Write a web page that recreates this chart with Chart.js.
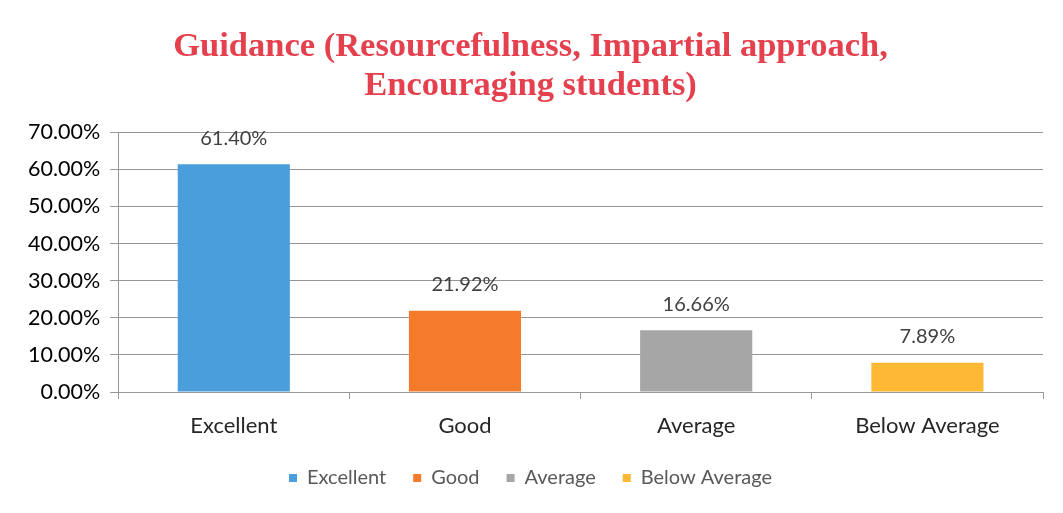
<!DOCTYPE html>
<html>
<head>
<meta charset="utf-8">
<script src="https://cdn.jsdelivr.net/npm/chart.js@4.4.1/dist/chart.umd.min.js"></script>
<style>
  html, body { margin: 0; padding: 0; background: #ffffff; }
  #wrap { width: 1063px; height: 513px; position: relative; }
</style>
</head>
<body>
<div id="wrap"><canvas id="c" width="1063" height="513"></canvas></div>
<script>
const categories = ['Excellent', 'Good', 'Average', 'Below Average'];
const values = [61.40, 21.92, 16.66, 7.89];
const valueLabels = ['61.40%', '21.92%', '16.66%', '7.89%'];
const barColors = ['#4a9edb', '#f47a2c', '#a6a6a6', '#ffb833'];
const titleLines = ['Guidance (Resourcefulness, Impartial approach,', 'Encouraging students)'];

const dataLabelPlugin = {
  id: 'dataLabels',
  afterDatasetsDraw(chart) {
    const ctx = chart.ctx;
    const meta = chart.getDatasetMeta(0);
    ctx.save();
    ctx.font = '20px Lato';
    ctx.fillStyle = '#404040';
    ctx.textAlign = 'center';
    ctx.textBaseline = 'middle';
    meta.data.forEach((bar, i) => {
      ctx.fillText(valueLabels[i], bar.x, bar.y - 26);
    });
    ctx.restore();
  }
};

new Chart(document.getElementById('c'), {
  type: 'bar',
  data: {
    labels: categories,
    datasets: [{
      label: 'Series',
      data: values,
      backgroundColor: barColors,
      borderWidth: 0,
      categoryPercentage: 1.0,
      barPercentage: 0.485
    }]
  },
  options: {
    responsive: false,
    animation: false,
    devicePixelRatio: 1,
    layout: { padding: { left: 18, right: 20, top: 0, bottom: 15 } },
    plugins: {
      title: {
        display: true,
        text: titleLines,
        color: '#e5404e',
        font: { family: 'Liberation Serif', size: 34.5, weight: 'bold', lineHeight: 1.12 },
        padding: { top: 28, bottom: 27 }
      },
      legend: {
        position: 'bottom',
        labels: {
          color: '#595959',
          font: { family: 'Lato', size: 20 },
          boxWidth: 8,
          boxHeight: 8,
          padding: 27,
          generateLabels(chart) {
            return categories.map((c, i) => ({
              text: c,
              fillStyle: barColors[i],
              strokeStyle: barColors[i],
              lineWidth: 0,
              fontColor: '#595959',
              index: i
            }));
          }
        }
      },
      tooltip: { enabled: false }
    },
    scales: {
      x: {
        grid: { display: true, offset: true, drawOnChartArea: false, drawTicks: true, tickLength: 7, color: '#999999' },
        border: { display: true, color: '#999999', width: 1 },
        ticks: { color: '#262626', font: { family: 'Lato', size: 22 }, padding: 14 },
        afterFit(scale) { scale.height = 49; }
      },
      y: {
        min: 0,
        max: 70,
        ticks: {
          stepSize: 10,
          color: '#000000',
          font: { family: 'Lato', size: 21.5 },
          padding: 10,
          callback: v => v.toFixed(2) + '%'
        },
        grid: { color: '#969696', tickLength: 8 },
        border: { display: true, color: '#969696' }
      }
    }
  },
  plugins: [dataLabelPlugin]
});
</script>
</body>
</html>
